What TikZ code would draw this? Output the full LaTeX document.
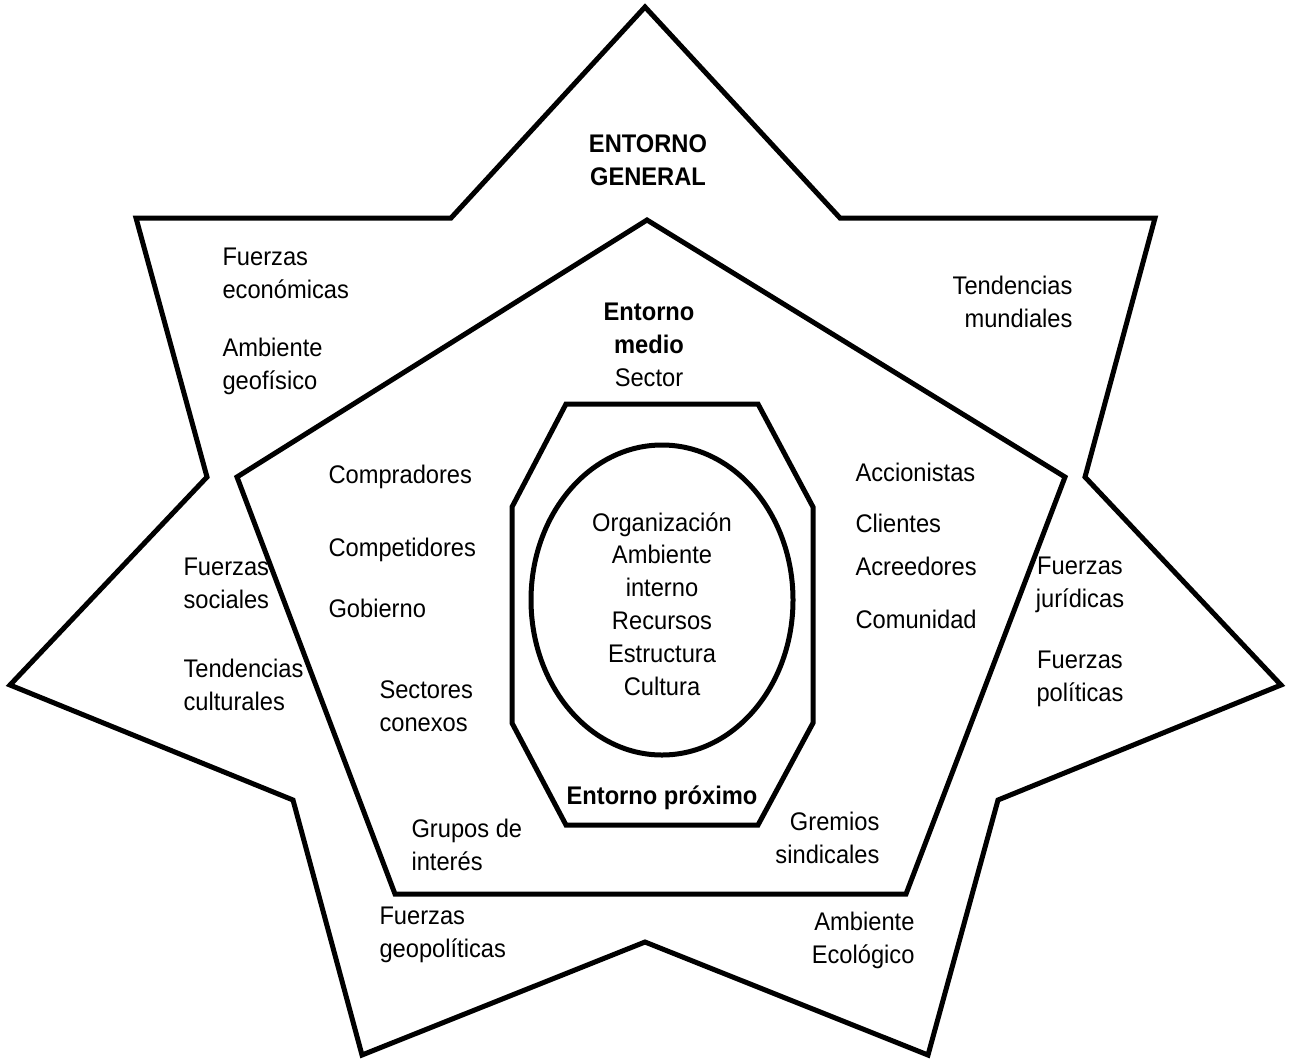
\documentclass[tikz,border=0pt]{standalone}
\usepackage{fontspec}
\setmainfont[FakeStretch=0.93]{Liberation Sans}
\begin{document}
\begin{tikzpicture}[x=0.02cm, y=-0.02cm, line width=0.1cm, line join=miter,
  txt/.style={font=\fontsize{14.5pt}{18.7pt}\selectfont, inner sep=0pt},
  txtl/.style={txt, align=left, anchor=west},
  txtr/.style={txt, align=right, anchor=east},
  txtc/.style={txt, align=center}]

\def\ellcx{662}
\def\ellcy{600}

\useasboundingbox (0,0) rectangle (1290,1061);

% entorno general: estrella de siete puntas
\draw (645,7) -- (840,218) -- (1155,218) -- (1085,477) -- (1281,685) -- (998,800)
  -- (928,1055) -- (645,942) -- (362,1055) -- (293,800) -- (10,685) -- (207,477)
  -- (136,218) -- (451,218) -- cycle;

% entorno medio: pentagono
\draw (647,220) -- (1065,477) -- (906,894) -- (395,894) -- (237,477) -- cycle;

% entorno proximo: octogono
\draw (566,404) -- (758,404) -- (813,507) -- (813,723) -- (758,825) -- (566,825)
  -- (512,723) -- (512,507) -- cycle;

% organizacion
\draw (\ellcx,\ellcy) ellipse [x radius=131, y radius=155];

%\draw[dashed] (645,0) -- (645,1061);

\node[txtc, font=\fontsize{14.5pt}{18.7pt}\selectfont\bfseries] (general) at (648,160) {ENTORNO\\GENERAL};
\node[txtl] (economicas) at (220,273) {Fuerzas\\económicas};
\node[txtl] (geofisico) at (220,366) {Ambiente\\geofísico};
\node[txtr] (mundiales) at (1075,302) {Tendencias\\mundiales};
\node[txtl] (sociales) at (181,583) {Fuerzas\\sociales};
\node[txtl] (culturales) at (181,685) {Tendencias\\culturales};
\node[txtl] (geopoliticas) at (377,935) {Fuerzas\\geopolíticas};
\node[txtc] (juridicas) at (1080,585) {Fuerzas\\jurídicas};
\node[txtc] (politicas) at (1080,679) {Fuerzas\\políticas};
\node[txtr] (ecologico) at (917,940) {Ambiente\\Ecológico};

\node[txtc] (medio) at (649,345) {\textbf{Entorno}\\\textbf{medio}\\Sector};
\node[txtl] (compradores) at (326,477) {Compradores};
\node[txtl] (competidores) at (326,550) {Competidores};
\node[txtl] (gobierno) at (326,608) {Gobierno};
\node[txtl] (conexos) at (377,706) {Sectores\\conexos};
\node[txtl] (interes) at (409,845) {Grupos de\\interés};
\node[txtl] (accionistas) at (853,472) {Accionistas};
\node[txtl] (clientes) at (853,523) {Clientes};
\node[txtl] (acreedores) at (853,566) {Acreedores};
\node[txtl] (comunidad) at (853,619) {Comunidad};
\node[txtr] (sindicales) at (882,838) {Gremios\\sindicales};

\node[txtc, font=\fontsize{14.5pt}{18.7pt}\selectfont\bfseries] (proximo) at (\ellcx,798) {Entorno próximo};
\node[txtc] (interno) at (\ellcx,604) {Organización\\Ambiente\\interno\\Recursos\\Estructura\\Cultura};

\end{tikzpicture}
\end{document}
